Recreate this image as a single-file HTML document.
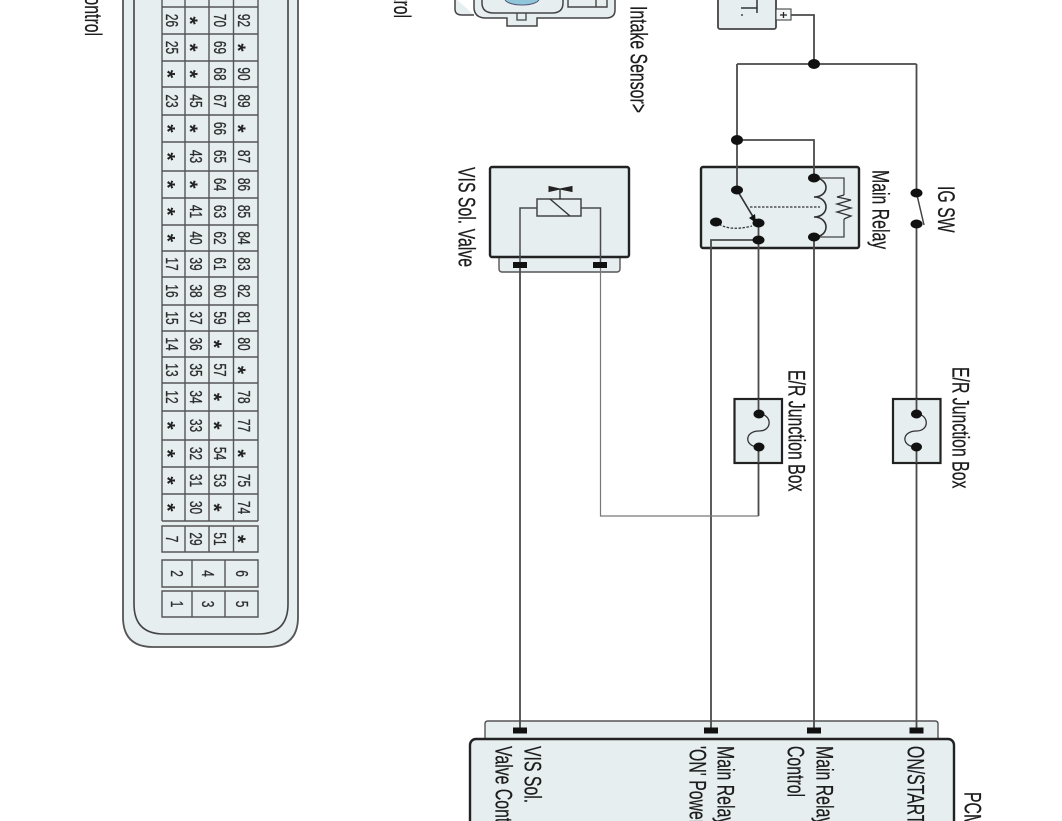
<!DOCTYPE html>
<html><head><meta charset="utf-8"><style>
html,body{margin:0;padding:0;background:#fff}
svg{display:block;filter:blur(.35px)}
text{font-family:"Liberation Sans",sans-serif;fill:#1c1c1c}
.l{font-size:24px;stroke:#1c1c1c;stroke-width:.25px}
.d{font-size:17.500px;text-anchor:middle;fill:#2c2c2c;stroke:#2c2c2c;stroke-width:.3px}
.s{font-size:21px;font-weight:bold;text-anchor:middle;fill:#222}
.w{fill:none;stroke:#4a4a4a;stroke-width:1.800}
.b{fill:#e6eef0;stroke:#222;stroke-width:2.400}
.g{fill:none;stroke:#555;stroke-width:1.400}
</style></head><body>
<svg width="1062" height="821" viewBox="0 0 1062 821" xmlns="http://www.w3.org/2000/svg">
<rect width="1062" height="821" fill="#fff"/>

<!-- connector outline -->
<path d="M123,-2V617Q123,647 153,647H268Q298,647 298,617V-2Z" fill="#e6eef0" stroke="#555" stroke-width="1.800"/>
<path d="M134,-2V604Q134,634 164,634H258Q288,634 288,604V-2" fill="none" stroke="#444" stroke-width="1.600"/>
<!-- table grid -->
<path class="g" d="M162,-2V521M185,-2V521M209,-2V521M233.500,-2V521M258,-2V521
M162,7H258M162,34H258M162,61H258M162,87H258M162,115H258M162,142H258M162,171H258M162,198H258M162,225H258M162,251H258M162,277H258M162,305H258M162,331H258M162,357H258M162,383H258M162,411H258M162,440H258M162,467H258M162,494H258M162,521H258
M162,526H258V552H162ZM185,526V552M209,526V552M233.500,526V552
M162,560H258V587H162ZM192,560V587M225,560V587
M162,591H258V617H162ZM192,591V617M225,591V617"/>
<!-- table text -->
<g>
<text class="d" transform="matrix(0 .68 -1 0 166 20.500)">26</text><text class="s" transform="matrix(0 1 -1 0 183 20.500)">*</text><text class="d" transform="matrix(0 .68 -1 0 214 20.500)">70</text><text class="d" transform="matrix(0 .68 -1 0 238 20.500)">92</text>
<text class="d" transform="matrix(0 .68 -1 0 166 47.500)">25</text><text class="s" transform="matrix(0 1 -1 0 183 47.500)">*</text><text class="d" transform="matrix(0 .68 -1 0 214 47.500)">69</text><text class="s" transform="matrix(0 1 -1 0 231 47.500)">*</text>
<text class="s" transform="matrix(0 1 -1 0 160.500 74)">*</text><text class="s" transform="matrix(0 1 -1 0 183 74)">*</text><text class="d" transform="matrix(0 .68 -1 0 214 74)">68</text><text class="d" transform="matrix(0 .68 -1 0 238 74)">90</text>
<text class="d" transform="matrix(0 .68 -1 0 166 101)">23</text><text class="d" transform="matrix(0 .68 -1 0 190 101)">45</text><text class="d" transform="matrix(0 .68 -1 0 214 101)">67</text><text class="d" transform="matrix(0 .68 -1 0 238 101)">89</text>
<text class="s" transform="matrix(0 1 -1 0 160.500 128.500)">*</text><text class="s" transform="matrix(0 1 -1 0 183 128.500)">*</text><text class="d" transform="matrix(0 .68 -1 0 214 128.500)">66</text><text class="s" transform="matrix(0 1 -1 0 231 128.500)">*</text>
<text class="s" transform="matrix(0 1 -1 0 160.500 156.500)">*</text><text class="d" transform="matrix(0 .68 -1 0 190 156.500)">43</text><text class="d" transform="matrix(0 .68 -1 0 214 156.500)">65</text><text class="d" transform="matrix(0 .68 -1 0 238 156.500)">87</text>
<text class="s" transform="matrix(0 1 -1 0 160.500 184.500)">*</text><text class="s" transform="matrix(0 1 -1 0 183 184.500)">*</text><text class="d" transform="matrix(0 .68 -1 0 214 184.500)">64</text><text class="d" transform="matrix(0 .68 -1 0 238 184.500)">86</text>
<text class="s" transform="matrix(0 1 -1 0 160.500 211.500)">*</text><text class="d" transform="matrix(0 .68 -1 0 190 211.500)">41</text><text class="d" transform="matrix(0 .68 -1 0 214 211.500)">63</text><text class="d" transform="matrix(0 .68 -1 0 238 211.500)">85</text>
<text class="s" transform="matrix(0 1 -1 0 160.500 238)">*</text><text class="d" transform="matrix(0 .68 -1 0 190 238)">40</text><text class="d" transform="matrix(0 .68 -1 0 214 238)">62</text><text class="d" transform="matrix(0 .68 -1 0 238 238)">84</text>
<text class="d" transform="matrix(0 .68 -1 0 166 264)">17</text><text class="d" transform="matrix(0 .68 -1 0 190 264)">39</text><text class="d" transform="matrix(0 .68 -1 0 214 264)">61</text><text class="d" transform="matrix(0 .68 -1 0 238 264)">83</text>
<text class="d" transform="matrix(0 .68 -1 0 166 291)">16</text><text class="d" transform="matrix(0 .68 -1 0 190 291)">38</text><text class="d" transform="matrix(0 .68 -1 0 214 291)">60</text><text class="d" transform="matrix(0 .68 -1 0 238 291)">82</text>
<text class="d" transform="matrix(0 .68 -1 0 166 318)">15</text><text class="d" transform="matrix(0 .68 -1 0 190 318)">37</text><text class="d" transform="matrix(0 .68 -1 0 214 318)">59</text><text class="d" transform="matrix(0 .68 -1 0 238 318)">81</text>
<text class="d" transform="matrix(0 .68 -1 0 166 344)">14</text><text class="d" transform="matrix(0 .68 -1 0 190 344)">36</text><text class="s" transform="matrix(0 1 -1 0 207 344)">*</text><text class="d" transform="matrix(0 .68 -1 0 238 344)">80</text>
<text class="d" transform="matrix(0 .68 -1 0 166 370)">13</text><text class="d" transform="matrix(0 .68 -1 0 190 370)">35</text><text class="d" transform="matrix(0 .68 -1 0 214 370)">57</text><text class="s" transform="matrix(0 1 -1 0 231 370)">*</text>
<text class="d" transform="matrix(0 .68 -1 0 166 397)">12</text><text class="d" transform="matrix(0 .68 -1 0 190 397)">34</text><text class="s" transform="matrix(0 1 -1 0 207 397)">*</text><text class="d" transform="matrix(0 .68 -1 0 238 397)">78</text>
<text class="s" transform="matrix(0 1 -1 0 160.500 425.500)">*</text><text class="d" transform="matrix(0 .68 -1 0 190 425.500)">33</text><text class="s" transform="matrix(0 1 -1 0 207 425.500)">*</text><text class="d" transform="matrix(0 .68 -1 0 238 425.500)">77</text>
<text class="s" transform="matrix(0 1 -1 0 160.500 453.500)">*</text><text class="d" transform="matrix(0 .68 -1 0 190 453.500)">32</text><text class="d" transform="matrix(0 .68 -1 0 214 453.500)">54</text><text class="s" transform="matrix(0 1 -1 0 231 453.500)">*</text>
<text class="s" transform="matrix(0 1 -1 0 160.500 480.500)">*</text><text class="d" transform="matrix(0 .68 -1 0 190 480.500)">31</text><text class="d" transform="matrix(0 .68 -1 0 214 480.500)">53</text><text class="d" transform="matrix(0 .68 -1 0 238 480.500)">75</text>
<text class="s" transform="matrix(0 1 -1 0 160.500 507.500)">*</text><text class="d" transform="matrix(0 .68 -1 0 190 507.500)">30</text><text class="s" transform="matrix(0 1 -1 0 207 507.500)">*</text><text class="d" transform="matrix(0 .68 -1 0 238 507.500)">74</text>
<text class="d" transform="matrix(0 .68 -1 0 166 539)">7</text><text class="d" transform="matrix(0 .68 -1 0 190 539)">29</text><text class="d" transform="matrix(0 .68 -1 0 214 539)">51</text><text class="s" transform="matrix(0 1 -1 0 231 539)">*</text>
<text class="d" transform="matrix(0 .68 -1 0 171 573.500)">2</text><text class="d" transform="matrix(0 .68 -1 0 202 573.500)">4</text><text class="d" transform="matrix(0 .68 -1 0 236 573.500)">6</text>
<text class="d" transform="matrix(0 .68 -1 0 171 604)">1</text><text class="d" transform="matrix(0 .68 -1 0 202 604)">3</text><text class="d" transform="matrix(0 .68 -1 0 236 604)">5</text>
</g>

<!-- intake sensor -->
<path d="M455,-2V9Q455,15 462,15H474" fill="#e6eef0" stroke="#444" stroke-width="1.500"/>
<path d="M474,-2V7Q474,18 486,18H507V26H537V18H606Q615,18 615,10V-2Z" fill="#e6eef0" stroke="#444" stroke-width="1.500"/>
<path d="M482,-2V3Q482,13 494,13H552Q563,13 563,3V-2" fill="#e6eef0" stroke="#444" stroke-width="1.500"/>
<path d="M517,13V20H526V13" fill="none" stroke="#444" stroke-width="1.300"/>
<ellipse cx="522" cy="-1" rx="17" ry="6" fill="#8fc6da" stroke="#557" stroke-width="1"/>
<path d="M568,-2V7H607V-2M596,-2V7" fill="none" stroke="#444" stroke-width="1.400"/>

<!-- battery -->
<rect x="718" y="-6" width="58" height="35" rx="2" fill="#e6eef0" stroke="#444" stroke-width="1.800"/>
<rect x="776" y="9" width="15" height="11" fill="#f4f7f7" stroke="#444" stroke-width="1.100"/>
<path d="M780,15H787M783.500,12V18" stroke="#222" stroke-width="1.300"/>
<path d="M741,8H757M757,-2V13" stroke="#333" stroke-width="1.500" fill="none"/>
<path d="M741,15H743" stroke="#444" stroke-width="1.500"/>
<path class="w" d="M791,15H814V64M737,64H916.500"/>

<!-- VIS valve -->
<rect x="499" y="240" width="121" height="32" rx="3" fill="#e6eef0" stroke="#555" stroke-width="1.400"/>
<rect x="490" y="167" width="139" height="90" rx="2" class="b"/>
<path d="M520,265V208H537M600.500,262V208H581" fill="none" stroke="#4a4a4a" stroke-width="1.500"/>
<rect x="537" y="199" width="44" height="17" fill="#e6eef0" stroke="#444" stroke-width="1.500"/>
<path d="M550,199L570,216M560,199V189" stroke="#333" stroke-width="1.400" fill="none"/>
<path d="M549,186.500L560,189L572,186.500V191.500L560,189L549,191.500Z" fill="#222" stroke="#222"/>
<rect x="513" y="262" width="14" height="6" fill="#111"/>
<rect x="593" y="262" width="14" height="6" fill="#111"/>

<!-- relay -->
<rect x="701" y="167" width="158" height="81" rx="2" class="b"/>
<path class="w" d="M737,64V190M737,140H814V178M814,237V730M711,730V240H758.500M758.500,223V414M758.500,447V516"/>
<path d="M758.500,516H600.500V268" fill="none" stroke="#777" stroke-width="1.200"/>
<path d="M814,178H844V195M844,219V237H814" fill="none" stroke="#444" stroke-width="1.300"/>
<path d="M844,195L837,197L851,200L837,204L851,208L837,212L851,216L844,219" fill="none" stroke="#333" stroke-width="1.300"/>
<path d="M814,178C830,178 830,197 814,197C830,197 830,217 814,217C830,217 830,237 814,237" fill="none" stroke="#333" stroke-width="1.600"/>
<path d="M750,207H820" stroke="#333" stroke-width="1.300" stroke-dasharray="2.500 1.500"/>
<path d="M737,190L755,220" stroke="#333" stroke-width="1.700"/>
<path d="M756,223L749,218L755,214Z" fill="#111"/>
<path d="M716,222Q728,232 752,226" fill="none" stroke="#333" stroke-width="1.300" stroke-dasharray="2.500 1.500"/>
<g fill="#111">
<ellipse cx="737" cy="140" rx="6" ry="5"/>
<ellipse cx="814" cy="64" rx="6" ry="5"/>
<ellipse cx="737" cy="190" rx="6" ry="4.500"/>
<ellipse cx="814" cy="178" rx="6" ry="4.500"/>
<ellipse cx="814" cy="237" rx="6" ry="4.500"/>
<ellipse cx="716" cy="222" rx="6" ry="4.500"/>
<ellipse cx="758.500" cy="223" rx="6" ry="4.500"/>
<ellipse cx="758.500" cy="240" rx="6" ry="4.500"/>
</g>

<!-- IG SW + right wire -->
<path class="w" d="M916.500,64V193M916.500,224V399M916.500,463V730"/>
<path d="M917,195L924,225" stroke="#444" stroke-width="1.500"/>
<ellipse cx="916.500" cy="193" rx="6" ry="4.500" fill="#111"/>
<ellipse cx="916.500" cy="224" rx="6" ry="4.500" fill="#111"/>

<!-- fuses -->
<rect x="734.500" y="399" width="47.500" height="64" fill="#e6eef0" stroke="#222" stroke-width="2.200"/>
<path class="w" d="M758.500,399V414M758.500,447V463"/>
<path d="M759,414C772,414 773,431 759,431C744,431 744,447 759,447" fill="none" stroke="#333" stroke-width="1.300"/>
<ellipse cx="759" cy="414" rx="5.500" ry="4.500" fill="#111"/>
<ellipse cx="759" cy="447" rx="5.500" ry="4.500" fill="#111"/>
<rect x="893" y="399" width="47.500" height="64" fill="#e6eef0" stroke="#222" stroke-width="2.200"/>
<path class="w" d="M916.500,399V414M916.500,447V463"/>
<path d="M916.500,414C929,414 930,431 916.500,431C901,431 901,447 916.500,447" fill="none" stroke="#333" stroke-width="1.300"/>
<ellipse cx="916.500" cy="414" rx="5.500" ry="4.500" fill="#111"/>
<ellipse cx="916.500" cy="447" rx="5.500" ry="4.500" fill="#111"/>

<!-- PCM -->
<path d="M485,745V724Q485,721 488,721H935Q938,721 938,724V745Z" fill="#e6eef0" stroke="#555" stroke-width="1.400"/>
<path class="w" d="M520,268V730M711,721V730M814,721V730M916.500,721V730"/>
<rect x="513" y="727.500" width="14" height="6" fill="#111"/>
<rect x="704" y="727.500" width="14" height="6" fill="#111"/>
<rect x="807" y="727.500" width="14" height="6" fill="#111"/>
<rect x="909.500" y="727.500" width="14" height="6" fill="#111"/>
<rect x="470" y="739" width="484" height="100" rx="6" class="b"/>

<!-- labels -->
<g class="l">
<text transform="matrix(0 .66 -1 0 85 -15)">Control</text>
<text transform="matrix(0 .66 -1 0 394 -33)">Control</text>
<text transform="matrix(0 .66 -1 0 630.500 6)">Intake Sensor&gt;</text>
<text transform="matrix(0 .66 -1 0 458.500 167)">VIS Sol. Valve</text>
<text transform="matrix(0 .66 -1 0 872.500 170)">Main Relay</text>
<text transform="matrix(0 .66 -1 0 938 186)">IG SW</text>
<text transform="matrix(0 .66 -1 0 788.500 370)">E/R Junction Box</text>
<text transform="matrix(0 .66 -1 0 952.500 367)">E/R Junction Box</text>
<text transform="matrix(0 .66 -1 0 524.500 746)">VIS Sol.</text>
<text transform="matrix(0 .66 -1 0 495.500 746)">Valve Control</text>
<text transform="matrix(0 .66 -1 0 717.500 746)">Main Relay</text>
<text transform="matrix(0 .66 -1 0 689.500 746)">'ON' Power</text>
<text transform="matrix(0 .66 -1 0 816.500 746)">Main Relay</text>
<text transform="matrix(0 .66 -1 0 787.500 746)">Control</text>
<text transform="matrix(0 .66 -1 0 907.500 746)">ON/START</text>
<text transform="matrix(0 .66 -1 0 964.500 792)">PCM</text>
</g>
</svg>
</body></html>
